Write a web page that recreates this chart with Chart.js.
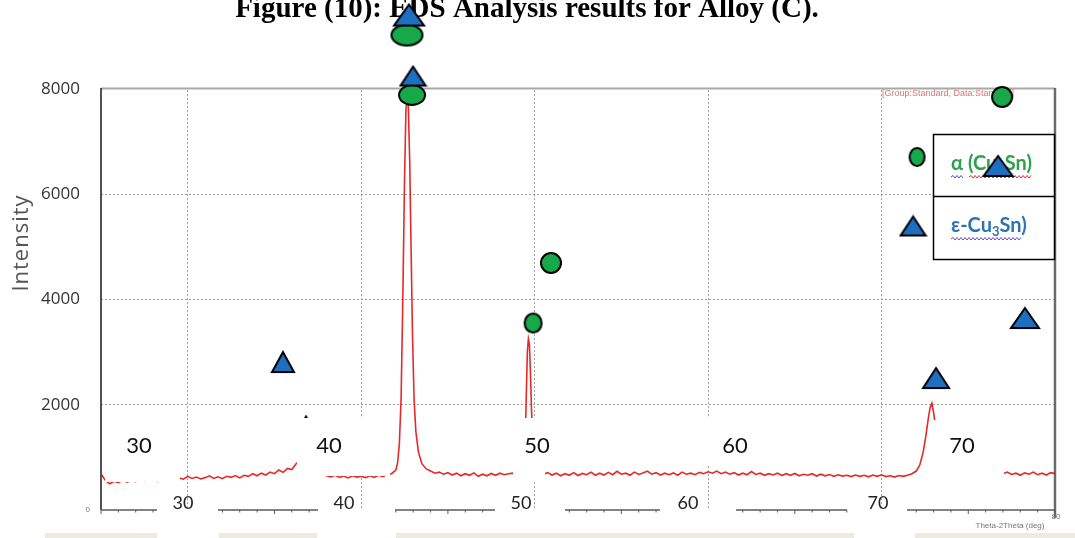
<!DOCTYPE html>
<html>
<head>
<meta charset="utf-8">
<title>EDS Analysis results for Alloy (C)</title>
<script src="https://cdn.jsdelivr.net/npm/chart.js@4.4.1/dist/chart.umd.min.js"></script>
<style>
  html, body { margin: 0; padding: 0; background: #fff; }
  #wrap { width: 1075px; height: 538px; }
</style>
</head>
<body>
<div id="wrap"><canvas id="xrd" width="1075" height="538"></canvas></div>
<script>
// XRD scan (2-theta in degrees, intensity in counts)
const twoTheta = [
  25.00, 25.25, 25.50, 25.75, 26.00, 26.25, 26.50, 26.75, 27.00, 27.25, 27.50, 27.75,
  28.00, 28.25, 28.50, 28.75, 29.00, 29.25, 29.50, 29.75, 30.00, 30.25, 30.50, 30.75,
  31.00, 31.25, 31.50, 31.75, 32.00, 32.25, 32.50, 32.75, 33.00, 33.25, 33.50, 33.75,
  34.00, 34.25, 34.50, 34.75, 35.00, 35.25, 35.50, 35.75, 36.00, 36.25, 36.50, 36.75,
  37.00, 37.25, 37.50, 37.75, 38.00, 38.25, 38.50, 38.75, 39.00, 39.25, 39.50, 39.75,
  40.00, 40.25, 40.50, 40.75, 41.00, 41.25, 41.50, 41.75, 42.00, 42.10, 42.20, 42.30,
  42.40, 42.50, 42.58, 42.65, 42.72, 42.80, 42.88, 42.96, 43.05, 43.15, 43.30, 43.50,
  43.75, 44.00, 44.25, 44.50, 44.75, 45.00, 45.25, 45.50, 45.75, 46.00, 46.25, 46.50,
  46.75, 47.00, 47.25, 47.50, 47.75, 48.00, 48.25, 48.50, 48.75, 49.00, 49.20, 49.35,
  49.45, 49.52, 49.58, 49.64, 49.70, 49.76, 49.82, 49.90, 50.00, 50.15, 50.35, 50.50,
  50.75, 51.00, 51.25, 51.50, 51.75, 52.00, 52.25, 52.50, 52.75, 53.00, 53.25, 53.50,
  53.75, 54.00, 54.25, 54.50, 54.75, 55.00, 55.25, 55.50, 55.75, 56.00, 56.25, 56.50,
  56.75, 57.00, 57.25, 57.50, 57.75, 58.00, 58.25, 58.50, 58.75, 59.00, 59.25, 59.50,
  59.75, 60.00, 60.25, 60.50, 60.75, 61.00, 61.25, 61.50, 61.75, 62.00, 62.25, 62.50,
  62.75, 63.00, 63.25, 63.50, 63.75, 64.00, 64.25, 64.50, 64.75, 65.00, 65.25, 65.50,
  65.75, 66.00, 66.25, 66.50, 66.75, 67.00, 67.25, 67.50, 67.75, 68.00, 68.25, 68.50,
  68.75, 69.00, 69.25, 69.50, 69.75, 70.00, 70.25, 70.50, 70.75, 71.00, 71.25, 71.50,
  71.75, 72.00, 72.20, 72.40, 72.55, 72.70, 72.80, 72.90, 73.00, 73.15, 73.35, 73.60,
  73.90, 74.25, 74.50, 74.75, 75.00, 75.25, 75.50, 75.75, 76.00, 76.25, 76.50, 76.75,
  77.00, 77.25, 77.50, 77.75, 78.00, 78.25, 78.50, 78.75, 79.00, 79.25, 79.50, 79.75,
  80.00
];
const intensity = [
  690, 560, 500, 545, 520, 570, 530, 555, 540, 585, 545, 560,
  575, 540, 590, 560, 600, 575, 610, 585, 640, 600, 625, 590,
  615, 650, 600, 630, 595, 640, 620, 655, 610, 660, 640, 690,
  650, 700, 665, 720, 690, 760, 715, 790, 770, 880, 960, 1080,
  1000, 820, 720, 680, 650, 630, 660, 620, 645, 610, 650, 625,
  640, 615, 650, 620, 660, 635, 670, 690, 760, 900, 1250, 2100,
  4000, 6300, 7600, 7850, 7650, 6600, 4900, 3300, 2100, 1500, 1100, 880,
  780, 740, 700, 720, 680, 710, 665, 700, 650, 690, 660, 705,
  640, 680, 650, 695, 660, 700, 670, 690, 700, 680, 720, 820,
  1200, 2200, 3000, 3250, 3150, 2600, 1900, 1300, 900, 760, 700, 680,
  710, 665, 700, 650, 690, 660, 710, 655, 695, 670, 720, 660,
  700, 665, 715, 670, 735, 680, 700, 660, 720, 675, 705, 740,
  680, 710, 665, 700, 670, 705, 660, 720, 680, 700, 670, 715,
  690, 725, 700, 740, 690, 720, 680, 710, 665, 700, 670, 730,
  675, 700, 660, 690, 665, 700, 655, 690, 660, 695, 650, 680,
  660, 690, 645, 680, 650, 675, 640, 670, 645, 660, 635, 665,
  640, 660, 630, 665, 640, 670, 635, 650, 625, 655, 640, 660,
  690, 740, 850, 1100, 1400, 1750, 1950, 2030, 1850, 1500, 1150, 900,
  780, 720, 700, 680, 700, 670, 690, 660, 700, 670, 710, 665,
  690, 720, 675, 700, 660, 705, 680, 720, 670, 700, 665, 710,
  690
];

// phase markers pasted over the pattern (2-theta, intensity)
const circleX = [42.64, 42.93, 76.95, 72.05, 50.94, 49.91];
const circleY = [9026, 7886, 7848, 6708, 4694, 3553];
const triangleX = [42.76, 42.99, 35.49, 76.72, 71.82, 78.27, 73.14];
const triangleY = [9406, 8247, 2812, 6537, 5397, 3648, 2508];
const smallTriangleX = [36.82];
const smallTriangleY = [1691];

const xGridLines = [30, 40, 50, 60, 70];
const yTickValues = [0, 2000, 4000, 6000, 8000];
const xMin = 25, xMax = 80, yMin = 0, yFrameTop = 8000;

const titleText = 'Figure (10): EDS Analysis results for Alloy (C).';
const yTitle = 'Intensity';
const xTitle = 'Theta-2Theta (deg)';
const headerNote = '[Group:Standard, Data:Standard]';
const boxLabels = ['30', '40', '50', '60', '70'];
const axisLabels = ['30', '40', '50', '60', '70'];
const phaseAlpha = ['α', ' (Cu-Sn)'];
const phaseEps = ['ε-Cu', '3', 'Sn)'];

// --- styles / layout ---
// the plot frame top sits at y=89, but the chart area runs higher so the
// markers pasted above the frame are still drawn by the chart
const FRAME_TOP = 89;
const GREEN = '#17a84a';
const BLUE = '#1e6fc0';
const circleSizes = [[31, 21], [26, 20], [20, 20], [15, 18], [20, 20], [17, 19]];
const triangleSizes = [[30, 21], [25, 19], [22, 20], [29, 20], [25, 19], [28, 20], [26, 20]];

function ellipseImg(w, h) {
    const c = document.createElement('canvas');
    c.width = w + 4;
    c.height = h + 4;
    const g = c.getContext('2d');
    g.beginPath();
    g.ellipse(c.width / 2, c.height / 2, w / 2, h / 2, 0, 0, Math.PI * 2);
    g.fillStyle = GREEN;
    g.fill();
    g.lineWidth = 2;
    g.strokeStyle = '#000';
    g.stroke();
    return c;
}

function triangleImg(w, h) {
    const c = document.createElement('canvas');
    c.width = w + 4;
    c.height = h + 4;
    const g = c.getContext('2d');
    g.beginPath();
    g.moveTo(c.width / 2, 2);
    g.lineTo(w + 2, h + 2);
    g.lineTo(2, h + 2);
    g.closePath();
    g.fillStyle = BLUE;
    g.fill();
    g.lineWidth = 2;
    g.strokeStyle = '#000';
    g.stroke();
    return c;
}

const circleImgs = circleSizes.map(s => ellipseImg(s[0], s[1]));
const triangleImgs = triangleSizes.map(s => triangleImg(s[0], s[1]));
const smallTriangleImg = triangleImg(10, 9);

function wavy(ctx, x1, x2, y, color) {
    ctx.save();
    ctx.strokeStyle = color;
    ctx.lineWidth = 1;
    ctx.beginPath();
    let up = true;
    ctx.moveTo(x1, y);
    for (let x = x1 + 2; x <= x2; x += 2) {
        ctx.lineTo(x, up ? y - 1.5 : y + 1);
        up = !up;
    }
    ctx.stroke();
    ctx.restore();
}

const overlay = {
    id: 'overlay',
    afterLayout(chart) {
        // stretch the y range so that 8000 lands on the frame top
        const ys = chart.scales.y;
        const a = chart.chartArea;
        ys.max = yFrameTop * (a.bottom - a.top) / (a.bottom - FRAME_TOP);
        ys.configure();
    },
    beforeDraw(chart) {
        const ctx = chart.ctx;
        ctx.save();
        ctx.fillStyle = '#fff';
        ctx.fillRect(0, 0, chart.width, chart.height);
        ctx.restore();
    },
    beforeDatasetsDraw(chart) {
        const ctx = chart.ctx;
        const a = chart.chartArea;
        const top = Math.round(chart.scales.y.getPixelForValue(yFrameTop));
        ctx.save();
        // hide the grid above the frame
        ctx.fillStyle = '#fff';
        ctx.fillRect(a.left - 2, 0, a.right - a.left + 6, top - 1);

        // title, cut at the top edge as in the pasted figure
        ctx.fillStyle = '#000';
        ctx.font = 'bold 29px "Liberation Serif"';
        ctx.textAlign = 'center';
        ctx.textBaseline = 'alphabetic';
        ctx.fillText(titleText, 527, 17);

        // top frame
        ctx.strokeStyle = '#a8a8a8';
        ctx.lineWidth = 2;
        ctx.beginPath();
        ctx.moveTo(a.left, top - 0.5);
        ctx.lineTo(a.right, top - 0.5);
        ctx.stroke();
        // right frame
        ctx.strokeStyle = '#6a6a6a';
        ctx.lineWidth = 2.5;
        ctx.beginPath();
        ctx.moveTo(a.right, top - 1);
        ctx.lineTo(a.right, a.bottom + 8);
        ctx.stroke();
        // left axis
        ctx.strokeStyle = '#1a1a1a';
        ctx.lineWidth = 1.5;
        ctx.beginPath();
        ctx.moveTo(a.left, top - 1);
        ctx.lineTo(a.left, a.bottom);
        ctx.stroke();
        // small red header
        ctx.fillStyle = '#e27272';
        ctx.font = '9px "Liberation Sans"';
        ctx.textAlign = 'left';
        ctx.textBaseline = 'middle';
        ctx.fillText(headerNote, 882, top + 5);
        ctx.restore();
    },
    beforeDatasetDraw(chart, args) {
        if (args.index !== 2) return;
        const ctx = chart.ctx;
        ctx.save();
        // white label boxes pasted over the plot
        ctx.fillStyle = '#fff';
        ctx.fillRect(105, 418, 75, 64);
        ctx.fillRect(297, 418, 93, 58);
        ctx.fillRect(506, 418, 356, 48);
        ctx.fillRect(513, 418, 32, 64);
        ctx.fillRect(930, 420, 74, 64);
        ctx.fillStyle = '#111';
        ctx.font = '22px Lato';
        ctx.textAlign = 'center';
        ctx.textBaseline = 'middle';
        const boxX = [139, 329, 537, 735, 962];
        boxLabels.forEach((t, i) => ctx.fillText(t, boxX[i], 446));

        // phase legend
        ctx.fillStyle = '#fff';
        ctx.fillRect(933, 134, 122, 126);
        ctx.strokeStyle = '#000';
        ctx.lineWidth = 1.5;
        ctx.strokeRect(933.5, 134.5, 121, 125);
        ctx.beginPath();
        ctx.moveTo(933, 196.5);
        ctx.lineTo(1055, 196.5);
        ctx.stroke();

        ctx.font = 'bold 20px Lato';
        ctx.textAlign = 'left';
        ctx.textBaseline = 'middle';
        ctx.fillStyle = '#2ca24f';
        let x = 951;
        ctx.fillText(phaseAlpha[0], x, 164);
        const wA = ctx.measureText(phaseAlpha[0]).width;
        ctx.fillText(phaseAlpha[1], x + wA, 164);
        const wB = ctx.measureText(phaseAlpha[1]).width;
        wavy(ctx, x, x + wA, 177, '#4b4bd0');
        wavy(ctx, x + wA + 6, x + wA + wB, 177, '#e23030');

        ctx.fillStyle = '#2e74b5';
        x = 951;
        ctx.fillText(phaseEps[0], x, 226);
        let w = ctx.measureText(phaseEps[0]).width;
        ctx.font = 'bold 13px Lato';
        ctx.fillText(phaseEps[1], x + w, 232);
        w += ctx.measureText(phaseEps[1]).width;
        ctx.font = 'bold 20px Lato';
        ctx.fillText(phaseEps[2], x + w, 226);
        w += ctx.measureText(phaseEps[2]).width;
        wavy(ctx, x, x + w - 4, 239, '#6a4bc8');
        ctx.restore();
    },
    afterDraw(chart) {
        const ctx = chart.ctx;
        const a = chart.chartArea;
        const xs = chart.scales.x;
        ctx.save();
        // broken bottom axis with its own labels
        const segs = [[101, 157], [218, 318], [395, 495], [565, 660], [736, 847], [907, 1055]];
        ctx.strokeStyle = '#5a5a5a';
        ctx.lineWidth = 1.5;
        segs.forEach(s => {
            ctx.beginPath();
            ctx.moveTo(s[0], a.bottom);
            ctx.lineTo(s[1], a.bottom);
            ctx.stroke();
        });
        ctx.lineWidth = 1;
        for (let v = xMin; v <= xMax; v++) {
            const px = xs.getPixelForValue(v);
            if (!segs.some(s => px >= s[0] && px <= s[1])) continue;
            ctx.beginPath();
            ctx.moveTo(px, a.bottom);
            ctx.lineTo(px, a.bottom + (v % 5 === 0 ? 4 : 2.5));
            ctx.stroke();
        }
        ctx.fillStyle = '#222';
        ctx.font = '18px Lato';
        ctx.textAlign = 'center';
        ctx.textBaseline = 'middle';
        const axX = [183, 344, 521, 688, 878];
        axisLabels.forEach((t, i) => ctx.fillText(t, axX[i], 503));

        // pale bands at the bottom edge
        ctx.fillStyle = '#ebebde';
        [[45, 157], [219, 317], [396, 854], [915, 1075]].forEach(b => ctx.fillRect(b[0], 533, b[1] - b[0], 5));

        // tiny texts of the instrument plot
        ctx.fillStyle = '#777';
        ctx.font = '8px "Liberation Sans"';
        ctx.fillText(xTitle, 1010, 526);
        ctx.fillText('80', 1056, 517);
        ctx.textAlign = 'right';
        ctx.fillText('0', 90, a.bottom);

        // y title
        ctx.translate(22, 243);
        ctx.rotate(-Math.PI / 2);
        ctx.fillStyle = '#555';
        ctx.font = '22px "Open Sans"';
        ctx.letterSpacing = '1px';
        ctx.textAlign = 'center';
        ctx.textBaseline = 'middle';
        ctx.fillText(yTitle, 0, 0);
        ctx.restore();
    }
};

new Chart(document.getElementById('xrd'), {
    type: 'line',
    data: {
        datasets: [
            {
                label: 'XRD',
                data: twoTheta.map((t, i) => ({ x: t, y: intensity[i] })),
                borderColor: 'rgba(226, 18, 18, 0.9)',
                borderWidth: 1.6,
                pointRadius: 0,
                tension: 0,
                order: 4
            },
            {
                label: 'ε (hidden)',
                data: smallTriangleX.map((t, i) => ({ x: t, y: smallTriangleY[i] })),
                showLine: false,
                pointStyle: smallTriangleImg,
                clip: false,
                order: 3
            },
            {
                label: 'α',
                data: circleX.map((t, i) => ({ x: t, y: circleY[i] })),
                showLine: false,
                pointStyle: ctx => circleImgs[ctx.dataIndex],
                clip: false,
                order: 2
            },
            {
                label: 'ε',
                data: triangleX.map((t, i) => ({ x: t, y: triangleY[i] })),
                showLine: false,
                pointStyle: ctx => triangleImgs[ctx.dataIndex],
                clip: false,
                order: 1
            }
        ]
    },
    options: {
        responsive: false,
        animation: false,
        events: [],
        layout: {
            autoPadding: false,
            padding: { top: 0, right: 20, left: 0, bottom: 0 }
        },
        plugins: {
            legend: { display: false },
            title: { display: false },
            tooltip: { enabled: false }
        },
        scales: {
            x: {
                type: 'linear',
                min: xMin,
                max: xMax,
                afterBuildTicks: scale => {
                    scale.ticks = xGridLines.map(v => ({ value: v }));
                },
                afterFit: scale => {
                    scale.height = 28;
                },
                ticks: { display: false },
                grid: {
                    color: '#9c9c9c',
                    lineWidth: 1,
                    drawTicks: false
                },
                border: { display: false, dash: [2, 2] }
            },
            y: {
                min: yMin,
                max: 9500,
                afterBuildTicks: scale => {
                    scale.ticks = yTickValues.map(v => ({ value: v }));
                },
                afterFit: scale => {
                    scale.width = 101;
                },
                ticks: {
                    padding: 0,
                    color: '#333',
                    font: { family: '"Open Sans"', size: 17 },
                    callback: v => (v === 0 ? '' : v)
                },
                grid: {
                    color: ctx => (ctx.tick && (ctx.tick.value === yMin || ctx.tick.value === yFrameTop) ? 'rgba(0,0,0,0)' : '#9c9c9c'),
                    lineWidth: 1,
                    drawTicks: true,
                    tickLength: 21,
                    tickColor: 'rgba(0,0,0,0)'
                },
                border: { display: false, dash: [2, 2] }
            }
        }
    },
    plugins: [overlay]
});
</script>
</body>
</html>
